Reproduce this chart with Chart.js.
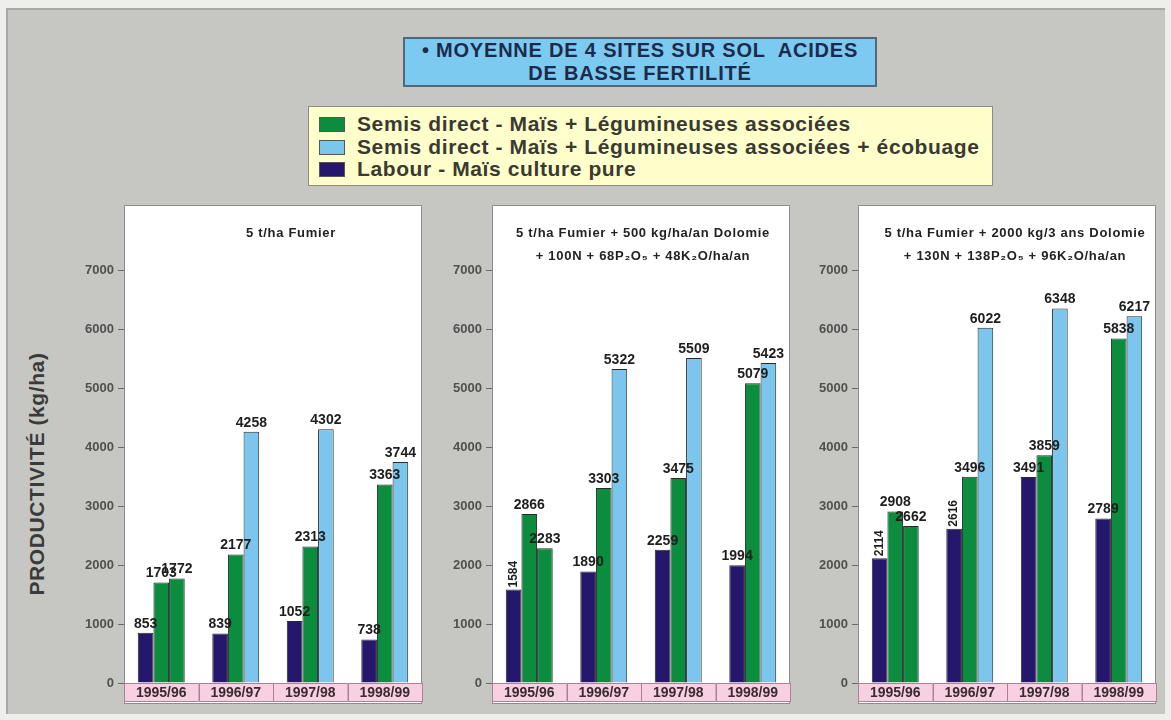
<!DOCTYPE html>
<html>
<head>
<meta charset="utf-8">
<script src="https://cdn.jsdelivr.net/npm/chart.js"></script>
<style>
    body { margin: 0; width: 1171px; height: 720px; overflow: hidden; background: #eeeeec; font-family: "Liberation Sans", Arial, sans-serif; }
    #frame { position: absolute; left: 6px; top: 8px; width: 1159px; height: 706px; box-sizing: border-box; background: #c6c7c2; border-top: 2px solid #a8a9a5; border-left: 2px solid #a8a9a5; }
    #title { position: absolute; left: 403px; top: 37px; width: 474px; height: 50px; box-sizing: border-box; background: #7ccaf0; border: 2px solid #55667a; text-align: center; font-weight: bold; font-size: 20px; letter-spacing: 0.8px; line-height: 23px; color: #1d2a4c; padding-top: 0px; }
    #legend { position: absolute; left: 308px; top: 106px; width: 685px; height: 80px; box-sizing: border-box; background: #ffffcc; border: 1px solid #8c8c80; padding: 6px 0 0 10px; }
    .row { height: 22.5px; line-height: 22.5px; font-weight: bold; font-size: 21px; letter-spacing: 0.6px; color: #3a3a32; white-space: nowrap; }
    .sw { display: inline-block; width: 26px; height: 15px; margin-right: 12px; vertical-align: -1px; border: 1px solid #555; box-sizing: border-box; }
    #ytitle { position: absolute; left: -113px; top: 462px; width: 300px; text-align: center; transform: rotate(-90deg); font-weight: bold; font-size: 21px; letter-spacing: 0.6px; color: #3a3a3a; white-space: nowrap; }
    .panel { position: absolute; top: 200px; }
</style>
</head>
<body>
<div id="frame"></div>
<div id="title">• MOYENNE DE 4 SITES SUR SOL&nbsp; ACIDES<br>DE BASSE FERTILITÉ</div>
<div id="legend"></div>
<div id="ytitle">PRODUCTIVITÉ (kg/ha)</div>
<canvas class="panel" id="p1" width="370" height="510" style="left:60px"></canvas>
<canvas class="panel" id="p2" width="370" height="510" style="left:428px"></canvas>
<canvas class="panel" id="p3" width="370" height="510" style="left:794px"></canvas>

<script>
    var years = ['1995/96', '1996/97', '1997/98', '1998/99'];
    var seriesNames = [
        'Labour - Maïs culture pure',
        'Semis direct - Maïs + Légumineuses associées',
        'Semis direct - Maïs + Légumineuses associées + écobuage'
    ];

    var titles1 = ['5 t/ha Fumier'];
    var labour1 = [853, 839, 1052, 738];
    var semis1 = [1703, 2177, 2313, 3363];
    var ecob1 = [1772, 4258, 4302, 3744];

    var titles2 = ['5 t/ha Fumier + 500 kg/ha/an Dolomie', '+ 100N + 68P₂O₅ + 48K₂O/ha/an'];
    var labour2 = [1584, 1890, 2259, 1994];
    var semis2 = [2866, 3303, 3475, 5079];
    var ecob2 = [2283, 5322, 5509, 5423];

    var titles3 = ['5 t/ha Fumier + 2000 kg/3 ans Dolomie', '+ 130N + 138P₂O₅ + 96K₂O/ha/an'];
    var labour3 = [2114, 2616, 3491, 2789];
    var semis3 = [2908, 3496, 3859, 5838];
    var ecob3 = [2662, 6022, 6348, 6217];

    var NAVY = '#25176b';
    var GREEN = '#0b8c3e';
    var LIGHT = '#7cc5ec';

    // legend (shared, drawn once above the three panels)
    var legendOrder = [[1, GREEN], [2, LIGHT], [0, NAVY]];
    document.getElementById('legend').innerHTML = legendOrder.map(function (l) {
        return '<div class="row"><span class="sw" style="background:' + l[1] + '"></span>' + seriesNames[l[0]] + '</div>';
    }).join('');

    Chart.defaults.font.family = '"Liberation Sans", Arial, sans-serif';

    var panelDecor = {
        id: 'panelDecor',
        beforeDraw: function (chart) {
            var ctx = chart.ctx, a = chart.chartArea, x = chart.scales.x;
            var opts = chart.options.plugins.panelDecor;
            ctx.save();
            // white panel
            ctx.fillStyle = '#ffffff';
            ctx.fillRect(a.left, 5, a.right - a.left, a.bottom + 20 - 5);
            ctx.strokeStyle = '#8d8d8d';
            ctx.lineWidth = 1;
            ctx.strokeRect(a.left + 0.5, 5.5, a.right - a.left - 1, a.bottom + 20 - 5);
            // pink year boxes
            var w = (a.right - a.left) / years.length;
            ctx.strokeStyle = '#b07f96';
            for (var i = 0; i < years.length; i++) {
                var cx = x.getPixelForValue(i);
                ctx.fillStyle = '#f7d0e1';
                ctx.fillRect(cx - w / 2, a.bottom, w, 19);
                ctx.strokeRect(Math.round(cx - w / 2) + 0.5, a.bottom + 0.5, Math.round(w) - 1, 18);
            }
            // panel title
            ctx.fillStyle = '#222222';
            ctx.font = 'bold 13px "Liberation Sans", Arial, sans-serif';
            ctx.letterSpacing = '0.7px';
            ctx.textAlign = 'center';
            ctx.textBaseline = 'middle';
            opts.lines.forEach(function (t, k) {
                ctx.fillText(t, (a.left + a.right) / 2 + opts.shift, 33 + k * 23);
            });
            ctx.restore();
        },
        afterDatasetsDraw: function (chart) {
            var ctx = chart.ctx;
            var rotated = chart.options.plugins.panelDecor.rotated;
            ctx.save();
            ctx.fillStyle = '#1e1e1e';
            chart.data.datasets.forEach(function (ds, di) {
                chart.getDatasetMeta(di).data.forEach(function (bar, i) {
                    var text = String(ds.data[i]);
                    var isRot = rotated.some(function (r) { return r[0] === di && r[1] === i; });
                    if (isRot) {
                        ctx.save();
                        ctx.font = 'bold 12px "Liberation Sans", Arial, sans-serif';
                        ctx.translate(bar.x, bar.y - 2);
                        ctx.rotate(-Math.PI / 2);
                        ctx.textAlign = 'left';
                        ctx.textBaseline = 'middle';
                        ctx.fillText(text, 0, 0);
                        ctx.restore();
                    } else {
                        ctx.font = 'bold 14px "Liberation Sans", Arial, sans-serif';
                        ctx.textAlign = 'center';
                        ctx.textBaseline = 'bottom';
                        ctx.fillText(text, bar.x, bar.y - 2);
                    }
                });
            });
            ctx.restore();
        }
    };

    function makePanel(id, lines, shift, labour, semis, ecob, rotated) {
        return new Chart(document.getElementById(id), {
            type: 'bar',
            data: {
                labels: years,
                datasets: [
                    { label: seriesNames[0], data: labour, backgroundColor: NAVY },
                    { label: seriesNames[1], data: semis, backgroundColor: GREEN },
                    {
                        label: seriesNames[2], data: ecob,
                        // the first season's écobuage bar is green in the original
                        backgroundColor: years.map(function (y, i) { return i === 0 ? GREEN : LIGHT; })
                    }
                ]
            },
            options: {
                responsive: false,
                animation: false,
                devicePixelRatio: 1,
                layout: { padding: { top: 70, right: 8, bottom: 5, left: 0 } },
                datasets: { bar: { categoryPercentage: 0.63, barPercentage: 1, borderWidth: 1, borderColor: '#2a2a2a' } },
                plugins: {
                    legend: { display: false },
                    tooltip: { enabled: false },
                    panelDecor: { lines: lines, shift: shift, rotated: rotated }
                },
                scales: {
                    x: {
                        grid: { display: false, drawTicks: false },
                        border: { display: false },
                        ticks: { font: { size: 14, weight: 'bold' }, color: '#3a2b33', padding: 2, maxRotation: 0, autoSkip: false },
                        afterFit: function (s) { s.height = 22; }
                    },
                    y: {
                        min: 0, max: 7000,
                        ticks: { stepSize: 1000, font: { size: 13, weight: 'bold' }, color: '#505050', padding: 4,
                            callback: function (v) { return String(v); } },
                        grid: { drawOnChartArea: false, tickLength: 6, color: '#6a6a6a' },
                        border: { display: false },
                        afterFit: function (s) { s.width = 64; }
                    }
                }
            },
            plugins: [panelDecor]
        });
    }

    makePanel('p1', titles1, 18, labour1, semis1, ecob1, []);
    makePanel('p2', titles2, 2, labour2, semis2, ecob2, [[0, 0]]);
    makePanel('p3', titles3, 8, labour3, semis3, ecob3, [[0, 0], [0, 1]]);
</script>
</body>
</html>
